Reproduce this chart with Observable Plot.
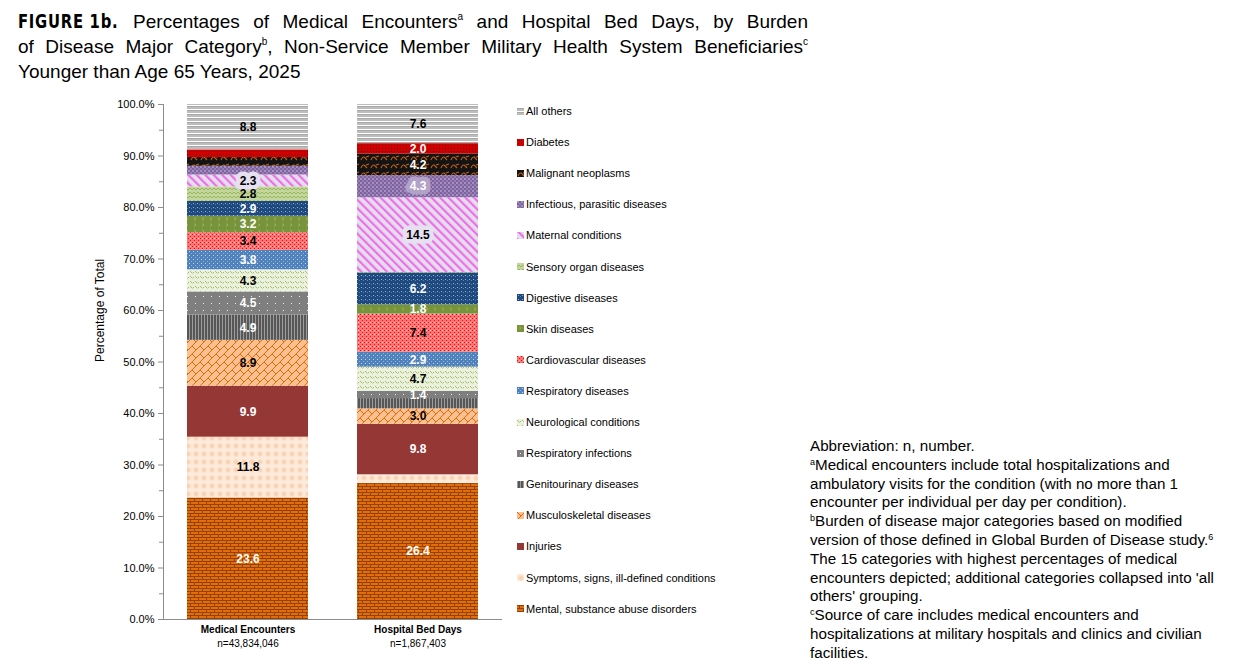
<!DOCTYPE html>
<html><head><meta charset="utf-8">
<script src="https://cdn.jsdelivr.net/npm/d3@7"></script>
<script src="https://cdn.jsdelivr.net/npm/@observablehq/plot@0.6"></script>
<style>
body{margin:0;background:#fff;font-family:"Liberation Sans",Arial,sans-serif;color:#000;}
#wrap{position:relative;width:1250px;height:670px;overflow:hidden;background:#fff;}
#title{position:absolute;left:18px;top:9px;width:790px;font-size:19px;line-height:25px;}
#title .j{text-align:justify;text-align-last:justify;}
#title .fig{display:inline-block;font-family:"DejaVu Sans",sans-serif;font-weight:bold;font-size:20px;letter-spacing:1px;transform:scaleX(0.74);transform-origin:0 50%;margin-right:-34px;}
#title sup{font-size:10px;vertical-align:8px;line-height:0;}
#chart{position:absolute;left:0;top:90px;}
#legend{position:absolute;left:517px;top:0;}
.li{position:absolute;left:0;white-space:nowrap;font-size:11px;line-height:14px;display:flex;align-items:center;}
.li svg{margin-right:2px;}
#notes{position:absolute;left:810px;top:437px;font-size:15.2px;line-height:18.8px;white-space:nowrap;}
#notes sup{font-size:9px;vertical-align:5px;line-height:0;}
</style></head>
<body><div id="wrap">
<div id="title">
<div class="j"><span class="fig">FIGURE 1b.</span> Percentages of Medical Encounters<sup>a</sup> and Hospital Bed Days, by Burden</div>
<div class="j">of Disease Major Category<sup>b</sup>, Non-Service Member Military Health System Beneficiaries<sup>c</sup></div>
<div>Younger than Age 65 Years, 2025</div>
</div>
<div id="chart"></div>
<div id="legend"></div>
<div id="notes">Abbreviation: n, number.<br><sup>a</sup>Medical encounters include total hospitalizations and<br>ambulatory visits for the condition (with no more than 1<br>encounter per individual per day per condition).<br><sup>b</sup>Burden of disease major categories based on modified<br>version of those defined in Global Burden of Disease study.<sup>6</sup><br>The 15 categories with highest percentages of medical<br>encounters depicted; additional categories collapsed into 'all<br>others' grouping.<br><sup>c</sup>Source of care includes medical encounters and<br>hospitalizations at military hospitals and clinics and civilian<br>facilities.</div>
</div>
<script>
// ---- data ----
const groups = ["Medical Encounters", "Hospital Bed Days"];
const groupN = ["n=43,834,046", "n=1,867,403"];
const categories = [
  "Mental, substance abuse disorders",
  "Symptoms, signs, ill-defined conditions",
  "Injuries",
  "Musculoskeletal diseases",
  "Genitourinary diseases",
  "Respiratory infections",
  "Neurological conditions",
  "Respiratory diseases",
  "Cardiovascular diseases",
  "Skin diseases",
  "Digestive diseases",
  "Sensory organ diseases",
  "Maternal conditions",
  "Infectious, parasitic diseases",
  "Malignant neoplasms",
  "Diabetes",
  "All others"
];
const medicalEncounters = [23.6, 11.8, 9.9, 8.9, 4.9, 4.5, 4.3, 3.8, 3.4, 3.2, 2.9, 2.8, 2.3, 1.7, 1.7, 1.5, 8.8];
const hospitalBedDays  = [26.4, 1.7, 9.8, 3.0, 2.0, 1.4, 4.7, 2.9, 7.4, 1.8, 6.2, 0.1, 14.5, 4.3, 4.2, 2.0, 7.6];
const medicalUnlabelled = ["Infectious, parasitic diseases", "Malignant neoplasms", "Diabetes"];
const bedUnlabelled = ["Symptoms, signs, ill-defined conditions", "Genitourinary diseases", "Sensory organ diseases"];

// ---- styles (per category, same order as categories) ----
const labelColor = ["white","black","white","black","white","white","black","white","black","white","white","black","black","white","white","white","black"];
const labelBox   = [null,null,null,null,null,null,null,null,null,null,null,null,"#e6e0f0","#b3a2c7",null,null,null];
const patternDefs = [
 `<rect width="8" height="6" fill="#e46c0a"/><path d="M0,0.5H8M0,3.5H8M2.5,0.5V3.5M6.5,3.5V6" stroke="#8f4306" stroke-width="1"/>`,
 `<rect width="8" height="8" fill="#fdeadb"/><polygon points="4,1 7,4 4,7 1,4" fill="#fbd3b3"/>`,
 `<rect width="4" height="4" fill="#953735"/>`,
 `<rect width="8" height="8" fill="#fac090"/><path d="M0,8L8,0M-1,1L1,-1M7,9L9,7M0,0L4,4" stroke="#e46c0a" stroke-width="1"/>`,
 `<rect width="3" height="4" fill="#575757"/><rect x="0" width="1" height="4" fill="#9c9c9c"/>`,
 `<rect width="8" height="7" fill="#7f7f7f"/><rect x="3" y="3" width="1" height="1" fill="#eeeeee"/>`,
 `<rect width="5" height="5" fill="#ebf1de"/><path d="M0,1L2,3M2.5,3.5L4,2" stroke="#9bbb59" stroke-width="0.9"/>`,
 `<rect width="4" height="4" fill="#4f81bd"/><rect x="1" y="1" width="1" height="1" fill="#c6d9f1"/><rect x="3" y="3" width="1" height="1" fill="#95b3d7"/>`,
 `<rect width="4" height="4" fill="#ff7575"/><rect x="0" y="0" width="1" height="1" fill="#e01010"/><rect x="2" y="2" width="1" height="1" fill="#e01010"/><rect x="2" y="0" width="1" height="1" fill="#ffd0d0"/>`,
 `<rect width="8" height="6" fill="#77933c"/><path d="M2,1.5L4,3L2,4.5" fill="none" stroke="#9fba62" stroke-width="0.8"/>`,
 `<rect width="4" height="4" fill="#1f497d"/><rect x="1" y="1" width="1" height="1" fill="#8db3e2"/><rect x="3" y="2" width="1" height="1" fill="#4f81bd"/>`,
 `<rect width="4" height="4" fill="#c3d69b"/><path d="M0,4L2,2L4,4" fill="none" stroke="#8fae4f" stroke-width="0.8"/>`,
 null,
 `<rect width="4" height="4" fill="#7f63a1"/><circle cx="1" cy="1" r="0.8" fill="#d5cbe6"/><circle cx="3" cy="3" r="0.8" fill="#b3a2c7"/>`,
 `<rect width="10" height="8" fill="#141414"/><path d="M1,6C2,3 4,2 5,4L7,6M6,3L9,2" fill="none" stroke="#c0601a" stroke-width="1.1"/>`,
 `<rect width="3" height="3" fill="#d00000"/><rect x="1" y="1" width="1" height="1" fill="#780000"/>`,
 `<rect width="4" height="4" fill="#bdbdbd"/><rect y="3" width="4" height="1" fill="#ffffff"/><rect y="0" width="4" height="1" fill="#a9a9a9"/>`
];
const patternSize = [[8,6],[8,8],[4,4],[8,8],[3,4],[8,7],[5,5],[4,4],[4,4],[8,6],[4,4],[4,4],[6,6],[4,4],[10,8],[3,3],[4,4]];

// ---- table ----
const rows = [];
categories.forEach((cat, i) => {
  rows.push({group: groups[0], cat, value: medicalEncounters[i], show: !medicalUnlabelled.includes(cat), i});
  rows.push({group: groups[1], cat, value: hospitalBedDays[i], show: !bedUnlabelled.includes(cat), i});
});
const patId = i => `pat${i}`;
const lbl = d => d.value.toFixed(1);

const stackOpts = {x: "group", y: "value", z: "cat", order: categories};
const svg = Plot.plot({
  width: 520, height: 580,
  marginLeft: 163, marginRight: 18, marginTop: 14, marginBottom: 51,
  style: {fontFamily: "'Liberation Sans', Arial, sans-serif", fontSize: "11px", color: "#000", background: "transparent", overflow: "visible"},
  x: {domain: groups, paddingInner: 0.288, paddingOuter: 0.141, axis: null},
  y: {domain: [0, 100], axis: null},
  color: {domain: categories, range: categories.map((c, i) => `url(#${patId(i)})`)},
  marks: [
    Plot.barY(rows, {x: "group", y: "value", fill: "cat", order: categories}),
    Plot.ruleY([0], {stroke: "#8c8c8c"}),
    Plot.frame({anchor: "left", stroke: "#8c8c8c"}),
    Plot.axisY({ticks: d3.range(0, 101, 10), tickFormat: d => d.toFixed(1) + "%", tickSize: 5, tickPadding: 4, label: null, stroke: "#8c8c8c", fontSize: 11}),
    Plot.axisY({ticks: d3.range(5, 100, 10), tickFormat: () => "", tickSize: 4, label: null, stroke: "#8c8c8c"}),
    Plot.text(["Percentage of Total"], {frameAnchor: "left", rotate: -90, dx: -63, fontSize: 12}),
    Plot.text(rows, Plot.stackY({...stackOpts, text: d => d.show && labelBox[d.i] === "#e6e0f0" ? lbl(d) : null, fill: "#e6e0f0", stroke: "#e6e0f0", strokeWidth: 9, strokeLinejoin: "round", fontWeight: "bold", fontSize: 12})),
    Plot.text(rows, Plot.stackY({...stackOpts, text: d => d.show && labelBox[d.i] === "#b3a2c7" ? lbl(d) : null, fill: "#b3a2c7", stroke: "#b3a2c7", strokeWidth: 9, strokeLinejoin: "round", fontWeight: "bold", fontSize: 12})),
    Plot.text(rows, Plot.stackY({...stackOpts, text: d => d.show && labelColor[d.i] === "white" ? lbl(d) : null, fill: "white", fontWeight: "bold", fontSize: 12})),
    Plot.text(rows, Plot.stackY({...stackOpts, text: d => d.show && labelColor[d.i] === "black" ? lbl(d) : null, fill: "black", fontWeight: "bold", fontSize: 12})),
    Plot.text(groups, {x: Plot.identity, text: Plot.identity, frameAnchor: "bottom", dy: 13, fontWeight: "bold", fontSize: 10}),
    Plot.text(groups, {x: Plot.identity, text: (d, i) => groupN[i], frameAnchor: "bottom", dy: 27, fontSize: 10})
  ]
});

const ns = "http://www.w3.org/2000/svg";
const defs = document.createElementNS(ns, "defs");
defs.innerHTML = categories.map((c, i) => {
  const [w, h] = patternSize[i];
  if (patternDefs[i] === null) {
    return `<pattern id="${patId(i)}" width="6" height="6" patternUnits="userSpaceOnUse" patternTransform="rotate(-45)"><rect width="6" height="6" fill="#e4dff0"/><rect width="2.2" height="6" fill="#ef6fe4"/></pattern>`;
  }
  return `<pattern id="${patId(i)}" width="${w}" height="${h}" patternUnits="userSpaceOnUse">${patternDefs[i]}</pattern>`;
}).join("");
svg.insertBefore(defs, svg.firstChild);
document.getElementById("chart").appendChild(svg);

const legend = document.getElementById("legend");
categories.slice().reverse().forEach((cat, k) => {
  const i = categories.indexOf(cat);
  const div = document.createElement("div");
  div.className = "li";
  div.style.top = (104 + k * 31.1) + "px";
  div.innerHTML = `<svg width="7" height="7"><rect width="7" height="7" fill="url(#${patId(i)})"/></svg><span>${cat}</span>`;
  legend.appendChild(div);
});
</script>
</body></html>
